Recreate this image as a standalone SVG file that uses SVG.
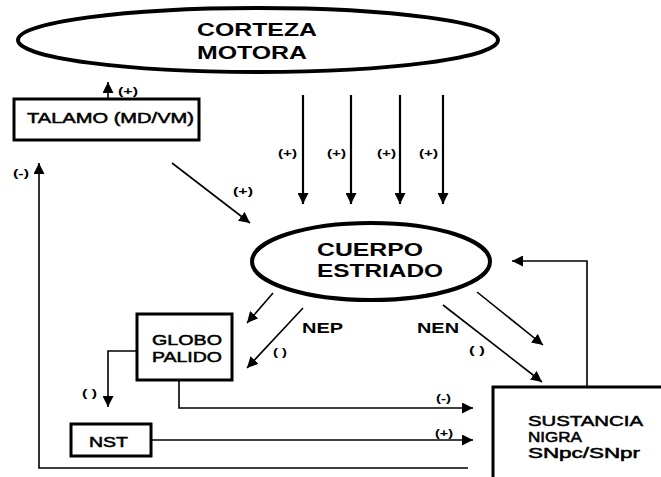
<svg xmlns="http://www.w3.org/2000/svg" width="661" height="477" viewBox="0 0 661 477">
<defs>
<marker id="ah" viewBox="0 0 10 10" refX="10" refY="5" markerWidth="11" markerHeight="11" markerUnits="userSpaceOnUse" orient="auto">
<path d="M0,0 L10,5 L0,10 z" fill="#000"/>
</marker>
</defs>
<style>
.big{font-family:"Liberation Sans",Arial,sans-serif;font-weight:bold;font-size:18px;fill:#000}
.mid{font-family:"Liberation Sans",Arial,sans-serif;font-size:14px;fill:#000;stroke:#000;stroke-width:0.5}
.nb{font-family:"Liberation Sans",Arial,sans-serif;font-weight:bold;font-size:14px;fill:#000}
.lab{font-family:"Liberation Sans",Arial,sans-serif;font-weight:bold;font-size:10px;fill:#000}
.box{fill:#fff;stroke:#000;stroke-width:3}
.ell{fill:#fff;stroke:#000;stroke-width:4}
.c{fill:none;stroke:#000;stroke-width:1.6}
.ct{fill:none;stroke:#000;stroke-width:2.2}
</style>
<rect width="661" height="477" fill="#fff"/>

<g id="connectors">
<line class="c" x1="108" y1="99" x2="108" y2="82" marker-end="url(#ah)"/>
<line class="ct" x1="303" y1="95" x2="303" y2="204" marker-end="url(#ah)"/>
<line class="ct" x1="351" y1="95" x2="351" y2="204" marker-end="url(#ah)"/>
<line class="ct" x1="400" y1="95" x2="400" y2="204" marker-end="url(#ah)"/>
<line class="ct" x1="443" y1="95" x2="443" y2="204" marker-end="url(#ah)"/>
<line class="c" x1="172" y1="163" x2="250" y2="223" marker-end="url(#ah)"/>
<polyline class="c" points="468,468 39,468 39,163" marker-end="url(#ah)"/>
<polyline class="c" points="587,387 587,261 512,261" marker-end="url(#ah)"/>
<line class="c" x1="273" y1="293" x2="247" y2="323" marker-end="url(#ah)"/>
<line class="c" x1="303" y1="308" x2="247" y2="368" marker-end="url(#ah)"/>
<line class="c" x1="477" y1="292" x2="543" y2="345" marker-end="url(#ah)"/>
<line class="c" x1="443" y1="305" x2="542" y2="382" marker-end="url(#ah)"/>
<polyline class="c" points="137,351 108,351 108,407" marker-end="url(#ah)"/>
<polyline class="c" points="179,380 179,408 473,408" marker-end="url(#ah)"/>
<line class="c" x1="151" y1="440" x2="473" y2="440" marker-end="url(#ah)"/>

<text class="lab" x="118" y="95" textLength="20" lengthAdjust="spacingAndGlyphs">(+)</text>
<text class="lab" x="278" y="157" textLength="19" lengthAdjust="spacingAndGlyphs">(+)</text>
<text class="lab" x="327" y="157" textLength="19" lengthAdjust="spacingAndGlyphs">(+)</text>
<text class="lab" x="377" y="157" textLength="19" lengthAdjust="spacingAndGlyphs">(+)</text>
<text class="lab" x="419" y="157" textLength="19" lengthAdjust="spacingAndGlyphs">(+)</text>
<text class="lab" x="233" y="195" textLength="20" lengthAdjust="spacingAndGlyphs">(+)</text>
<text class="lab" x="13" y="177" textLength="16" lengthAdjust="spacingAndGlyphs">(-)</text>
<text class="nb" x="302" y="333" textLength="41" lengthAdjust="spacingAndGlyphs">NEP</text>
<text class="nb" x="417" y="333" textLength="42" lengthAdjust="spacingAndGlyphs">NEN</text>
<text class="lab" x="273" y="356" textLength="14" lengthAdjust="spacingAndGlyphs">( )</text>
<text class="lab" x="469" y="354" textLength="16" lengthAdjust="spacingAndGlyphs">( )</text>
<text class="lab" x="82" y="397" textLength="15" lengthAdjust="spacingAndGlyphs">( )</text>
<text class="lab" x="436" y="402" textLength="15" lengthAdjust="spacingAndGlyphs">(-)</text>
<text class="lab" x="435" y="437" textLength="18" lengthAdjust="spacingAndGlyphs">(+)</text>
</g>

<g id="corteza">
<ellipse class="ell" cx="258" cy="40" rx="240" ry="32" stroke-width="3.5"/>
<text class="big" x="197" y="36" textLength="120" lengthAdjust="spacingAndGlyphs">CORTEZA</text>
<text class="big" x="197" y="59" textLength="110" lengthAdjust="spacingAndGlyphs">MOTORA</text>
</g>

<g id="talamo">
<rect class="box" x="14" y="99" width="185" height="41" stroke-width="2.5"/>
<text class="mid" x="27" y="123" font-size="16" textLength="167" lengthAdjust="spacingAndGlyphs">TALAMO (MD/VM)</text>
</g>

<g id="cuerpo">
<ellipse class="ell" cx="371" cy="261.5" rx="119" ry="38.5"/>
<text class="big" x="317" y="256" textLength="106" lengthAdjust="spacingAndGlyphs">CUERPO</text>
<text class="big" x="317" y="277" textLength="126" lengthAdjust="spacingAndGlyphs">ESTRIADO</text>
</g>

<g id="globo">
<rect class="box" x="137" y="314" width="95" height="66"/>
<text class="mid" x="152" y="345" textLength="70" lengthAdjust="spacingAndGlyphs">GLOBO</text>
<text class="mid" x="152" y="362" textLength="70" lengthAdjust="spacingAndGlyphs">PALIDO</text>
</g>

<g id="nst">
<rect class="box" x="71" y="424" width="80" height="32"/>
<text class="mid" x="89" y="447" textLength="39" lengthAdjust="spacingAndGlyphs">NST</text>
</g>

<g id="sustancia">
<rect class="box" x="493" y="387" width="200" height="120"/>
<text class="mid" x="528" y="426" textLength="115" lengthAdjust="spacingAndGlyphs">SUSTANCIA</text>
<text class="mid" x="528" y="442" textLength="54" lengthAdjust="spacingAndGlyphs">NIGRA</text>
<text class="mid" x="528" y="458" textLength="112" lengthAdjust="spacingAndGlyphs">SNpc/SNpr</text>
</g>
</svg>
